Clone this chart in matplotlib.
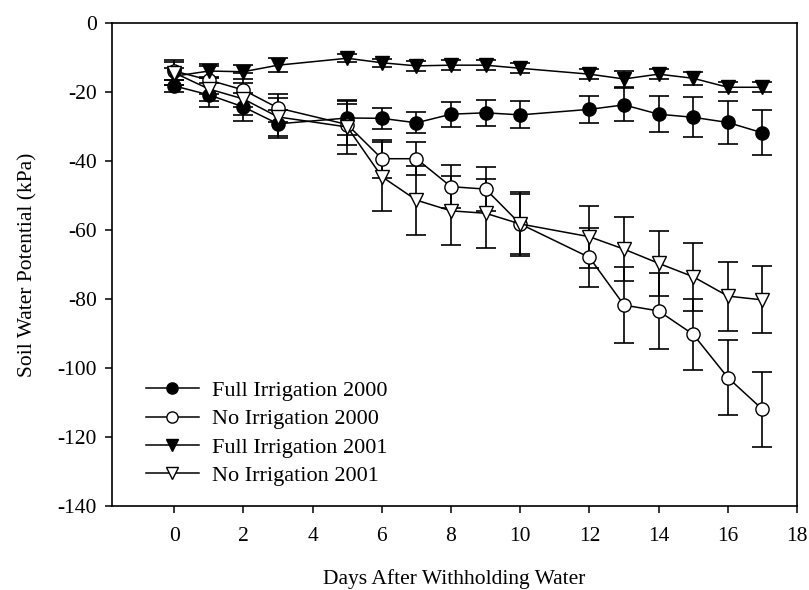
import matplotlib
matplotlib.use("Agg")
import matplotlib.pyplot as plt

plt.rcParams['font.family'] = ['Liberation Serif', 'DejaVu Serif']
plt.rcParams['axes.unicode_minus'] = False

days = [0, 1, 2, 3, 5, 6, 7, 8, 9, 10, 12, 13, 14, 15, 16, 17]

fi2000 = [-18.3, -20.9, -24.4, -29.3, -27.6, -27.7, -29.0, -26.5, -26.1, -26.7,
          -25.1, -23.8, -26.5, -27.4, -28.9, -31.9]
fi2000_err = [1.8, 3.5, 4.0, 4.0, 5.0, 3.0, 3.0, 3.6, 3.8, 3.9,
              3.9, 4.8, 5.3, 5.8, 6.2, 6.5]

ni2000 = [-14.0, -16.6, -19.5, -24.7, -29.5, -39.4, -39.4, -47.5, -48.2, -58.3,
          -68.0, -81.8, -83.5, -90.3, -102.8, -112.0]
ni2000_err = [2.5, 4.0, 5.0, 4.0, 6.0, 5.5, 4.7, 6.3, 6.4, 9.3,
              8.5, 11.0, 10.9, 10.2, 10.9, 10.9]

fi2001 = [-15.5, -14.0, -14.2, -12.3, -10.3, -11.6, -12.5, -12.3, -12.3, -13.2,
          -14.9, -16.3, -14.9, -16.1, -18.7, -18.7]
fi2001_err = [2.5, 2.0, 2.0, 2.0, 1.2, 1.2, 1.5, 1.5, 1.5, 1.5,
              1.5, 2.2, 1.5, 1.8, 1.5, 1.5]

ni2001 = [-14.5, -19.2, -22.1, -27.3, -30.2, -44.6, -51.4, -54.5, -55.2, -58.3,
          -62.0, -65.6, -69.7, -73.6, -79.2, -80.3]
ni2001_err = [3.6, 3.5, 4.5, 5.5, 7.9, 10.0, 10.0, 10.0, 10.0, 8.7,
              9.0, 9.3, 9.5, 9.8, 10.0, 9.7]

labels = ["Full Irrigation 2000", "No Irrigation 2000",
          "Full Irrigation 2001", "No Irrigation 2001"]

fig = plt.figure(figsize=(8.09, 5.90), dpi=100)
ax = fig.add_axes([0.1384, 0.1424, 0.8468, 0.8191])

series = [
    (fi2000, fi2000_err, 'o', 'black'),
    (ni2000, ni2000_err, 'o', 'white'),
    (fi2001, fi2001_err, 'v', 'black'),
    (ni2001, ni2001_err, 'v', 'white'),
]
for (vals, errs, mk, fc), lab in zip(series, labels):
    ax.errorbar(days, vals, yerr=errs, fmt='none', ecolor='black',
                elinewidth=1.2, capsize=7.5, capthick=1.2, zorder=2)
    ax.plot(days, vals, color='black', lw=1.1, marker=mk, markersize=9.5,
            markerfacecolor=fc, markeredgecolor='black', markeredgewidth=1.0,
            label=lab, zorder=3)

ax.set_xlim(-1.8, 18)
ax.set_ylim(-140, 0)
ax.set_xticks(range(0, 19, 2))
ax.set_yticks(range(-140, 1, 20))
ax.tick_params(direction='out', length=5, width=1.1, labelsize=15.5)
ax.tick_params(axis='x', pad=10)
ax.tick_params(axis='y', pad=6)
for s in ax.spines.values():
    s.set_linewidth(1.2)

ax.set_xlabel("Days After Withholding Water", fontsize=15.5, labelpad=17)
ax.set_ylabel("Soil Water Potential (kPa)", fontsize=15.5, labelpad=14)

leg = ax.legend(loc='lower left', frameon=False, fontsize=16,
                handlelength=2.4, handletextpad=0.6, labelspacing=0.35,
                borderaxespad=0.5, bbox_to_anchor=(0.02, 0.0),
                markerscale=0.85)

fig.savefig("out.png", dpi=100)
